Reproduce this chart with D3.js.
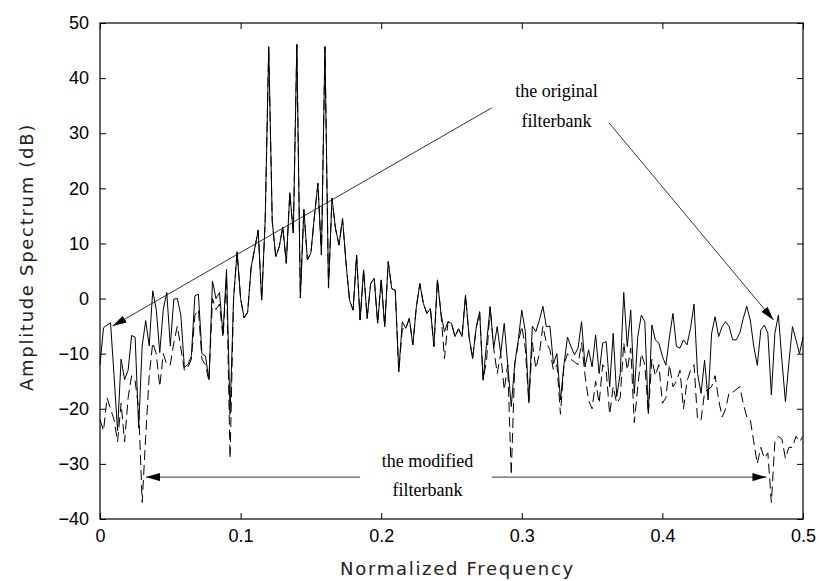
<!DOCTYPE html>
<html>
<head>
<meta charset="utf-8">
<script src="https://cdn.jsdelivr.net/npm/d3@7"></script>
<style>
  body { margin: 0; background: #fff; }
  .tick text { font-family: "Liberation Sans", Arial, sans-serif; font-size: 18px; fill: #000; }
  .tick line { stroke: #000; }
  .title { font-family: "DejaVu Sans", sans-serif; font-size: 18px; letter-spacing: 1.7px; fill: #222; }
</style>
</head>
<body>
<div id="chart"></div>
<script>
var margin = {top: 23, right: 16, bottom: 62, left: 100},
    width = 819 - margin.left - margin.right,
    height = 581 - margin.top - margin.bottom;

// frequency grid step (normalized frequency)
var step = 0.0025;

// the original filterbank (solid), dB, one value per grid point 0 .. 0.5
var original = [
  -12, -5.3, -4.8, -4.4, -14, -24, -11, -14.7, -13, -6.7,
  -7, -23.5, -8.6, -4, -8.6, 1.4, -2, -9.8, -2, 1.1,
  -8.6, -0.1, 0, -3, -12.5, -12, -10.4, 0.5, 0.8, -10,
  -10.4, -14.7, 3.2, 0, 1.1, -6.5, 5.3, -21, 0, 8.5,
  0, -3.5, -2.5, 5.7, 9, 12.4, -0.3, 14.3, 45.7, 14,
  7.6, 9.4, 13, 6.4, 19.2, 11.9, 46.1, 0.1, 16.2, 7,
  8.3, 14.9, 20.9, 7.9, 45.7, 1.9, 18.2, 12.7, 9.7, 14.5,
  6.4, -0.3, -2.1, 7.9, -3.9, 5.2, -3.6, 2.7, 3.7, -4.5,
  3.4, -5.1, 6.7, 1.8, 1.5, -13.3, -4.2, -5.4, -3.6, -8.4,
  -1.5, 2.7, -0.9, -2.7, -1.8, -8.7, 3.4, -2.7, -6, -4.2,
  -4.5, -6.9, -5.5, -6.9, 0.6, -6.9, -10.9, -5.4, -2.4, -14.8,
  -8, -1.5, -9, -5.1, -10, -4.5, -12, -19.6, -11.8, -7.5,
  -2.1, -6, -18.7, -5, -6, -3.9, -1.4, -5.1, -5, -11.8,
  -10, -18.4, -12, -7, -8.7, -10.2, -9, -4.2, -12.4, -9.3,
  -12.4, -6.6, -13.6, -8.1, -7.8, -16, -6.3, -17.8, -13.6, 1.1,
  -8.7, -2.1, -17.2, -6.9, -3, -4.2, -20.8, -4.8, -7.5, -8.1,
  -10.5, -12.1, -7, -2.7, -8.7, -9, -7.5, -8.4, -5.4, -1,
  -13.6, -17.2, -11.2, -18.4, -6.3, -3.3, -6.9, -5.1, -4.2, -5.1,
  -7.5, -7.5, -6.3, -3.6, -1.4, -3.9, -8.7, -12.1, -5.7, -4.8,
  -6.3, -17.5, -6.3, -3, -11.2, -18.7, -11.5, -5.1, -7.5, -10,
  -7
];

// the modified filterbank (dashed), dB
var modified = [
  -22, -24, -18, -20, -22, -26, -19, -26, -18, -14,
  -15, -20, -37, -25, -14, -8, -10, -16, -10, -12,
  -12, -8, -5, -9, -13, -12.5, -11, -3, -2, -11,
  -12, -15, 0, -2, -1, -7, 4, -29, 0, 8.5,
  0, -3.5, -2.5, 5.7, 9, 12.4, -0.3, 14.3, 45.7, 14,
  7.6, 9.4, 13, 6.4, 19.2, 11.9, 46.1, 0.1, 16.2, 7,
  8.3, 14.9, 20.9, 7.9, 45.7, 1.9, 18.2, 12.7, 9.7, 14.5,
  6.4, -0.3, -2.1, 7.9, -3.9, 5.2, -3.6, 2.7, 3.7, -4.5,
  3.4, -5.1, 6.7, 1.8, 1.5, -13.3, -5.5, -5.4, -3.6, -8.4,
  -1.5, 2.7, -0.9, -2.7, -1.8, -8.7, 3.4, -2.7, -10.9, -4.2,
  -4.5, -6.9, -5.5, -6.9, 0.6, -6.9, -10.9, -5.4, -2.4, -14.8,
  -11, -1.5, -9, -13.6, -10, -16.6, -12, -32, -12, -8,
  -5, -9, -19, -8, -12.7, -10, -5, -8, -9.3, -13,
  -12, -21, -12, -10, -11, -11.5, -12, -8, -14, -18.5,
  -20, -15, -19, -12, -13, -21, -16, -19, -18, -8,
  -13, -9, -22.5, -16, -10, -12, -21, -11, -14, -12,
  -19, -18, -12, -16, -15, -13, -20, -15, -13, -12,
  -22, -22, -17, -16.5, -16, -14, -18.4, -21.5, -20, -17,
  -17, -16.5, -16, -19, -21.5, -22, -26, -30, -27, -29,
  -28, -37, -26, -25, -25.5, -29, -27, -27, -25, -26,
  -25
];

var xTicks = [0, 0.1, 0.2, 0.3, 0.4, 0.5];
var yTicks = [-40, -30, -20, -10, 0, 10, 20, 30, 40, 50];

// annotation arrows in data units: [x1, y1, x2(tip), y2(tip)]
var arrowsOriginal = [[0.2786, 34.6, 0.009, -5], [0.362, 31.9, 0.479, -3.9]];
var arrowsModified = [[0.185, -32.4, 0.0327, -32.4], [0.2786, -32.4, 0.474, -32.4]];

var svg = d3.select("#chart")
  .append("svg")
    .attr("width", width + margin.left + margin.right)
    .attr("height", height + margin.top + margin.bottom)
  .append("g")
    .attr("transform", "translate(" + margin.left + "," + margin.top + ")");

var x = d3.scaleLinear().domain([0, 0.5]).range([0, width]);
var y = d3.scaleLinear().domain([-40, 50]).range([height, 0]);

svg.append("defs").append("marker")
    .attr("id", "head")
    .attr("markerUnits", "userSpaceOnUse")
    .attr("viewBox", "0 0 14 8")
    .attr("refX", 14).attr("refY", 4)
    .attr("markerWidth", 14).attr("markerHeight", 8)
    .attr("orient", "auto")
  .append("path")
    .attr("d", "M0,0 L14,4 L0,8 Z")
    .attr("fill", "#000");

// axes, ticks pointing inward
svg.append("g")
  .attr("transform", "translate(0," + height + ")")
  .call(d3.axisBottom(x).tickValues(xTicks).tickSize(-6).tickPadding(10)
        .tickFormat(function(d){ return d === 0 ? "0" : d3.format(".1f")(d); }));
svg.append("g")
  .call(d3.axisLeft(y).tickValues(yTicks).tickSize(-6).tickPadding(11));
svg.append("g")
  .call(d3.axisTop(x).tickValues(xTicks).tickSize(-6).tickFormat(""));
svg.append("g")
  .attr("transform", "translate(" + width + ",0)")
  .call(d3.axisRight(y).tickValues(yTicks).tickSize(-6).tickFormat(""));
svg.selectAll(".domain").remove();

svg.append("rect")
  .attr("width", width).attr("height", height)
  .attr("fill", "none").attr("stroke", "#000").attr("stroke-width", 1.2);

var line = d3.line()
  .x(function(d, i){ return x(i * step); })
  .y(function(d){ return y(d); });

svg.append("path")
  .datum(modified)
  .attr("d", line)
  .attr("fill", "none").attr("stroke", "#000").attr("stroke-width", 1)
  .attr("stroke-dasharray", "10,5");

svg.append("path")
  .datum(original)
  .attr("d", line)
  .attr("fill", "none").attr("stroke", "#000").attr("stroke-width", 1);

// annotation arrows
svg.selectAll("line.arrow")
  .data(arrowsOriginal.concat(arrowsModified))
  .enter()
  .append("line")
    .attr("class", "arrow")
    .attr("x1", function(d){ return x(d[0]); })
    .attr("y1", function(d){ return y(d[1]); })
    .attr("x2", function(d){ return x(d[2]); })
    .attr("y2", function(d){ return y(d[3]); })
    .attr("stroke", "#000").attr("stroke-width", 0.8)
    .attr("marker-end", "url(#head)");

var notes = [
  {t: "the original", fx: 0.3247, v: 36.6},
  {t: "filterbank", fx: 0.3247, v: 31.2},
  {t: "the modified", fx: 0.233, v: -30.6},
  {t: "filterbank", fx: 0.233, v: -35.9}
];
svg.selectAll("text.note")
  .data(notes)
  .enter()
  .append("text")
    .attr("class", "note")
    .attr("x", function(d){ return x(d.fx); })
    .attr("y", function(d){ return y(d.v); })
    .attr("text-anchor", "middle")
    .style("font-family", "'Liberation Serif', 'Times New Roman', serif")
    .style("font-size", "18px")
    .text(function(d){ return d.t; });

// axis titles
svg.append("text")
  .attr("class", "title")
  .attr("x", width / 2 + 6)
  .attr("y", height + 56)
  .attr("text-anchor", "middle")
  .text("Normalized Frequency");

svg.append("text")
  .attr("class", "title")
  .attr("transform", "translate(" + (-67) + "," + (height / 2 - 14) + ") rotate(-90)")
  .attr("text-anchor", "middle")
  .text("Amplitude Spectrum (dB)");
</script>
</body>
</html>
